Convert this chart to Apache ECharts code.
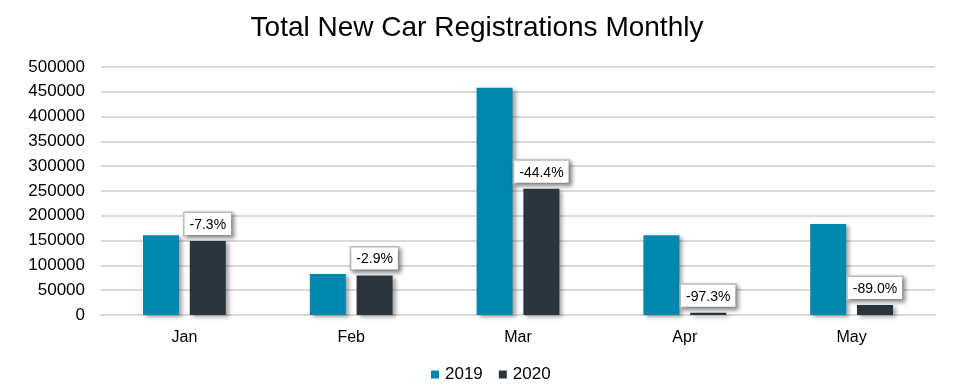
<!DOCTYPE html>
<html>
<head>
<meta charset="utf-8">
<script src="https://cdn.jsdelivr.net/npm/echarts@6/dist/echarts.min.js"></script>
<style>html,body{margin:0;padding:0;background:#fff}#c{width:954px;height:392px}</style>
</head>
<body>
<div id="c"></div>
<script>
const categories = ['Jan', 'Feb', 'Mar', 'Apr', 'May'];
const values2019 = [161000, 82600, 458000, 161000, 183700];
const values2020 = [149300, 79600, 254700, 4300, 20200];
const changeLabels = ['-7.3%', '-2.9%', '-44.4%', '-97.3%', '-89.0%'];
const seriesNames = ['2019', '2020'];

const chart = echarts.init(document.getElementById('c'));
const shadow = {shadowBlur: 4, shadowOffsetX: 3, shadowOffsetY: 2, shadowColor: 'rgba(0,0,0,0.35)'};
chart.setOption({
  animation: false,
  textStyle: {fontFamily: 'Liberation Sans, Arial, sans-serif'},
  title: {
    text: 'Total New Car Registrations Monthly',
    left: 'center', top: 9,
    textStyle: {fontSize: 28, fontWeight: 'normal', color: '#000', fontFamily: 'Liberation Sans, Arial, sans-serif'}
  },
  legend: {
    bottom: 4, left: 426, itemWidth: 8, itemHeight: 8, itemGap: 16,
    icon: 'rect',
    textStyle: {fontSize: 17, color: '#000', padding: [0, 0, 0, 1]},
    data: seriesNames
  },
  grid: {left: 101, right: 19, top: 67, bottom: 77},
  xAxis: {
    type: 'category', data: categories,
    axisLine: {lineStyle: {color: '#d9d9d9', width: 2}},
    axisTick: {show: false},
    axisLabel: {fontSize: 16, color: '#000', margin: 15}
  },
  yAxis: {
    type: 'value', min: 0, max: 500000, interval: 50000,
    axisLine: {show: false}, axisTick: {show: false},
    splitLine: {lineStyle: {color: '#d9d9d9', width: 2}},
    axisLabel: {fontSize: 17, color: '#000', margin: 16, formatter: v => String(v)}
  },
  series: [
    {
      name: seriesNames[0], type: 'bar', data: values2019,
      barWidth: 36, barGap: '30%',
      itemStyle: Object.assign({color: '#0087AD'}, shadow)
    },
    {
      name: seriesNames[1], type: 'bar', data: values2020,
      barWidth: 36,
      itemStyle: Object.assign({color: '#2A353D'}, shadow),
      label: {
        show: true, position: 'top', distance: 6,
        formatter: p => changeLabels[p.dataIndex],
        fontSize: 14, color: '#000',
        backgroundColor: '#fff', borderColor: '#bfbfbf', borderWidth: 1.5,
        padding: [5, 5, 3, 5],
        shadowBlur: 4, shadowOffsetX: 2, shadowOffsetY: 2, shadowColor: 'rgba(0,0,0,0.35)'
      }
    }
  ]
});
</script>
</body>
</html>
